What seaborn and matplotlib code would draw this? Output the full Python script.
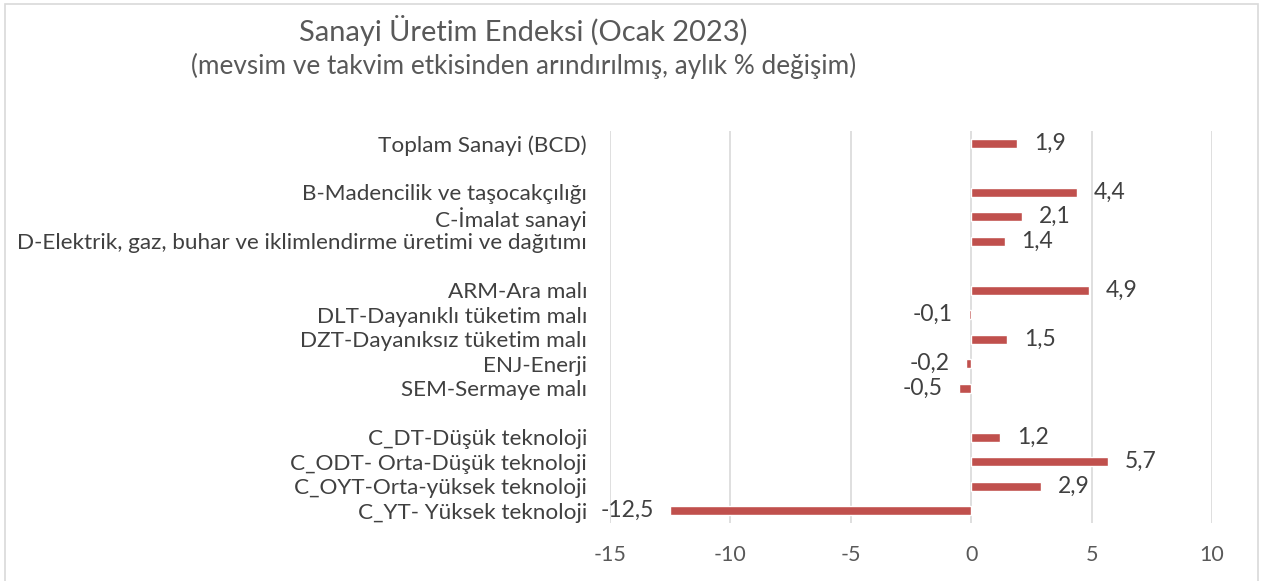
import matplotlib
matplotlib.use("Agg")
import matplotlib.pyplot as plt
import seaborn as sns
import pandas as pd
import numpy as np
from matplotlib.patches import Rectangle

categories = [
    "Toplam Sanayi (BCD)",
    " ",
    "B-Madencilik ve taşocakçılığı",
    "C-İmalat sanayi",
    "D-Elektrik, gaz, buhar ve iklimlendirme üretimi ve dağıtımı",
    "  ",
    "ARM-Ara malı",
    "DLT-Dayanıklı tüketim malı",
    "DZT-Dayanıksız tüketim malı",
    "ENJ-Enerji",
    "SEM-Sermaye malı",
    "   ",
    "C_DT-Düşük teknoloji",
    "C_ODT- Orta-Düşük teknoloji",
    "C_OYT-Orta-yüksek teknoloji",
    "C_YT- Yüksek teknoloji",
]
values = [1.9, np.nan, 4.4, 2.1, 1.4, np.nan, 4.9, -0.1, 1.5, -0.2, -0.5,
          np.nan, 1.2, 5.7, 2.9, -12.5]
xticks = [-15, -10, -5, 0, 5, 10]

title = "Sanayi Üretim Endeksi (Ocak 2023)"
subtitle = "(mevsim ve takvim etkisinden arındırılmış, aylık % değişim)"

df = pd.DataFrame({"kategori": categories, "deger": values})

sns.set_theme(style="white")
plt.rcParams["font.family"] = ["Lato", "DejaVu Sans"]

fig = plt.figure(figsize=(12.62, 5.81), dpi=100)
W, H = 1262, 581
ax = fig.add_axes([610 / W, (H - 523) / H, (1212 - 610) / W, (523 - 131) / H])

bar_color = "#C0504D"
text_color = "#404040"

sns.barplot(data=df, x="deger", y="kategori", order=categories, orient="h",
            color=bar_color, width=0.36, saturation=1, ax=ax, errorbar=None)

ax.set_xlim(-15, 10)
ax.set_ylim(len(categories) - 0.5, -0.5)
ax.set_xticks(xticks)
ax.set_xticklabels([str(t) for t in xticks])
ax.set_xlabel("")
ax.set_ylabel("")
for s in ax.spines.values():
    s.set_visible(False)
ax.grid(axis="x", color="#D9D9D9", linewidth=1.2)
ax.grid(axis="y", visible=False)
ax.set_axisbelow(True)
ax.tick_params(axis="y", length=0, pad=16.5, labelsize=16.2, labelcolor=text_color)
ax.tick_params(axis="x", length=0, pad=16, labelsize=15.5, labelcolor="#595959")

for i, v in enumerate(values):
    if np.isnan(v):
        continue
    lab = f"{v:.1f}".replace(".", ",")
    if v >= 0:
        ax.annotate(lab, (v, i), xytext=(12, 0), textcoords="offset points",
                    ha="left", va="center", fontsize=16.5, color=text_color)
    else:
        ax.annotate(lab, (v, i), xytext=(-12, 0), textcoords="offset points",
                    ha="right", va="center", fontsize=16.5, color=text_color)

fig.text(523 / W, 1 - 30 / H, title, ha="center", va="center",
         fontsize=20.9, color="#595959")
fig.text(524 / W, 1 - 66 / H, subtitle, ha="center", va="center",
         fontsize=18.8, color="#595959")

fig.patches.append(Rectangle((5 / W, -0.01), (1258 - 5) / W, 1.01 - 4 / H,
                             transform=fig.transFigure, fill=False,
                             edgecolor="#D9D9D9", linewidth=1.2))

fig.savefig("out.png", dpi=100)
